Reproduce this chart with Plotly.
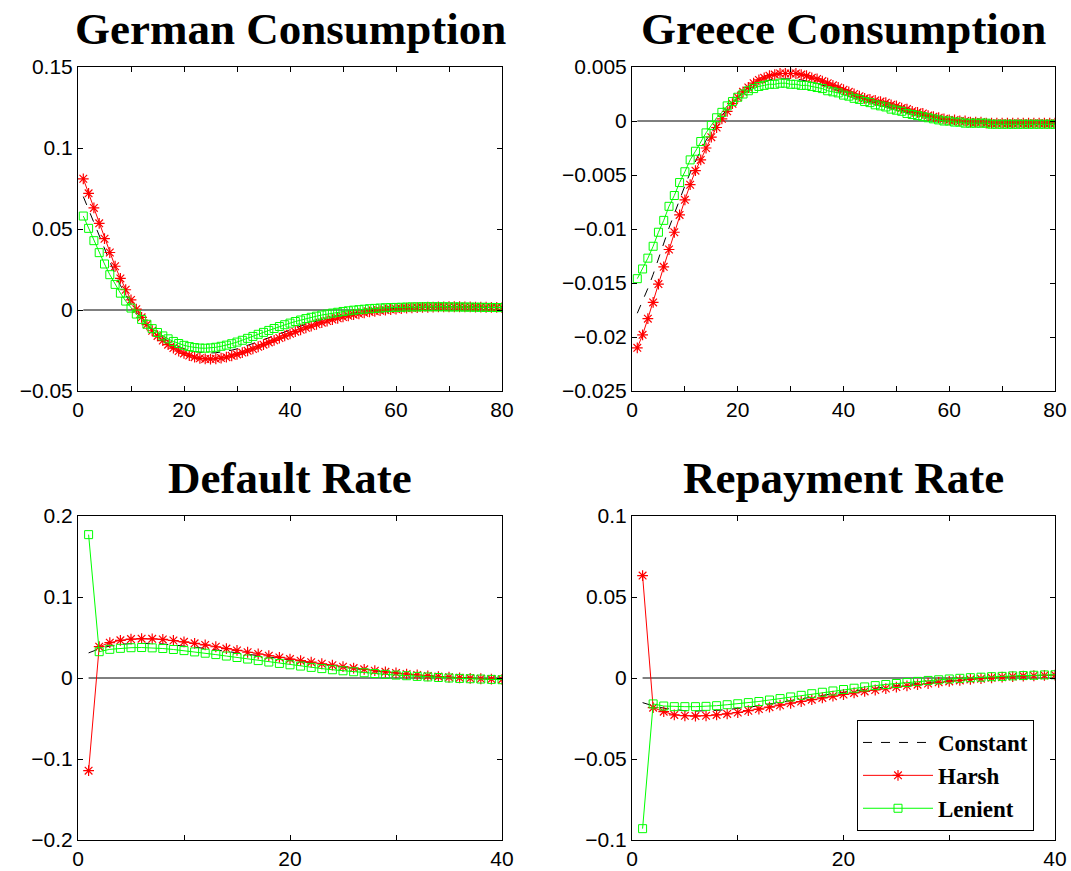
import plotly.graph_objects as go

t80 = list(range(1, 81))
t40 = list(range(1, 41))

# ---------------- German Consumption ----------------
german_constant = [
    0.070, 0.062, 0.0535, 0.045, 0.037, 0.0292, 0.022, 0.0152, 0.009, 0.0036,
    -0.0011, -0.0052, -0.0088, -0.0120, -0.0148, -0.0172, -0.0193, -0.0211, -0.0226, -0.0238,
    -0.0248, -0.0256, -0.0261, -0.0264, -0.0265, -0.0264, -0.0260, -0.0255, -0.0248, -0.0240,
    -0.0230, -0.0219, -0.0208, -0.0196, -0.0183, -0.0171, -0.0158, -0.0145, -0.0133, -0.0121,
    -0.0110, -0.0099, -0.0088, -0.0078, -0.0069, -0.0060, -0.0051, -0.0043, -0.0036, -0.0029,
    -0.0023, -0.0017, -0.0012, -0.0008, -0.0004, 0.0000, 0.0003, 0.0006, 0.0008, 0.0010,
    0.0012, 0.0014, 0.0015, 0.0016, 0.0017, 0.0018, 0.0018, 0.0019, 0.0019, 0.0019,
    0.0019, 0.0019, 0.0018, 0.0018, 0.0018, 0.0017, 0.0017, 0.0016, 0.0015, 0.0015]
german_harsh = [
    0.081, 0.072, 0.063, 0.0535, 0.044, 0.0355, 0.027, 0.0195, 0.0125, 0.0062,
    0.0005, -0.0045, -0.0090, -0.0128, -0.0160, -0.0189, -0.0214, -0.0235, -0.0253, -0.0268,
    -0.0281, -0.0291, -0.0298, -0.0302, -0.0303, -0.0301, -0.0297, -0.0291, -0.0283, -0.0274,
    -0.0263, -0.0252, -0.0240, -0.0227, -0.0214, -0.0200, -0.0187, -0.0173, -0.0160, -0.0147,
    -0.0134, -0.0122, -0.0110, -0.0099, -0.0088, -0.0078, -0.0068, -0.0059, -0.0051, -0.0043,
    -0.0036, -0.0029, -0.0023, -0.0017, -0.0012, -0.0008, -0.0004, 0.0000, 0.0003, 0.0006,
    0.0009, 0.0011, 0.0013, 0.0015, 0.0016, 0.0017, 0.0018, 0.0019, 0.0019, 0.0020,
    0.0020, 0.0020, 0.0019, 0.0019, 0.0018, 0.0018, 0.0017, 0.0016, 0.0016, 0.0015]
german_lenient = [
    0.058, 0.0504, 0.0428, 0.0354, 0.0284, 0.0218, 0.0158, 0.0104, 0.0055, 0.0012,
    -0.0025, -0.0058, -0.0088, -0.0115, -0.0139, -0.0160, -0.0178, -0.0194, -0.0207, -0.0218,
    -0.0226, -0.0232, -0.0235, -0.0236, -0.0234, -0.0230, -0.0224, -0.0217, -0.0208, -0.0198,
    -0.0187, -0.0175, -0.0163, -0.0150, -0.0138, -0.0126, -0.0114, -0.0102, -0.0091, -0.0081,
    -0.0071, -0.0062, -0.0053, -0.0045, -0.0038, -0.0031, -0.0025, -0.0019, -0.0014, -0.0009,
    -0.0005, -0.0001, 0.0002, 0.0005, 0.0008, 0.0010, 0.0012, 0.0014, 0.0015, 0.0016,
    0.0017, 0.0018, 0.0019, 0.0019, 0.0020, 0.0020, 0.0020, 0.0020, 0.0020, 0.0019,
    0.0019, 0.0019, 0.0018, 0.0018, 0.0017, 0.0017, 0.0016, 0.0016, 0.0015, 0.0015]

# ---------------- Greece Consumption ----------------
greece_constant = [
    -0.0178, -0.0167, -0.0155, -0.0142, -0.0127, -0.0113, -0.0099, -0.0086, -0.0072, -0.0060,
    -0.0048, -0.0037, -0.0027, -0.0018, -0.0010, -0.0002, 0.0005, 0.0011, 0.0017, 0.0022,
    0.0026, 0.0029, 0.0032, 0.0035, 0.0036, 0.0038, 0.0039, 0.0039, 0.0039, 0.0039,
    0.0039, 0.0038, 0.0037, 0.0036, 0.0035, 0.0033, 0.0032, 0.0030, 0.0028, 0.0027,
    0.0025, 0.0023, 0.0021, 0.0020, 0.0018, 0.0017, 0.0015, 0.0014, 0.0012, 0.0011,
    0.0010, 0.0008, 0.0007, 0.0006, 0.0005, 0.0004, 0.0003, 0.0002, 0.0001, 0.0000,
    0.0000, -0.0001, -0.0001, -0.0001, -0.0002, -0.0002, -0.0002, -0.0002, -0.0002, -0.0002,
    -0.0002, -0.0002, -0.0002, -0.0002, -0.0002, -0.0002, -0.0002, -0.0002, -0.0002, -0.0002]
greece_harsh = [
    -0.0210, -0.0198, -0.0183, -0.0168, -0.0151, -0.0135, -0.0119, -0.0103, -0.0087, -0.0073,
    -0.0059, -0.0046, -0.0036, -0.0025, -0.0015, -0.0006, 0.0002, 0.0009, 0.0016, 0.0022,
    0.0027, 0.0031, 0.0035, 0.0038, 0.0040, 0.0042, 0.0043, 0.0044, 0.0044, 0.0044,
    0.0044, 0.0043, 0.0042, 0.0040, 0.0039, 0.0037, 0.0035, 0.0033, 0.0031, 0.0029,
    0.0027, 0.0025, 0.0023, 0.0021, 0.0020, 0.0019, 0.0018, 0.0017, 0.0015, 0.0014,
    0.0012, 0.0011, 0.0009, 0.0008, 0.0007, 0.0005, 0.0004, 0.0003, 0.0002, 0.0001,
    0.0001, 0.0000, 0.0000, -0.0001, -0.0001, -0.0001, -0.0002, -0.0002, -0.0002, -0.0002,
    -0.0002, -0.0002, -0.0002, -0.0002, -0.0002, -0.0002, -0.0002, -0.0002, -0.0002, -0.0002]
greece_lenient = [
    -0.0146, -0.0137, -0.0127, -0.0116, -0.0103, -0.0092, -0.0079, -0.0069, -0.0057, -0.0047,
    -0.0036, -0.0028, -0.0019, -0.0011, -0.0004, 0.0003, 0.0008, 0.0014, 0.0018, 0.0022,
    0.0025, 0.0028, 0.0030, 0.0032, 0.0033, 0.0034, 0.0034, 0.0035, 0.0035, 0.0034,
    0.0034, 0.0033, 0.0033, 0.0032, 0.0031, 0.0030, 0.0028, 0.0027, 0.0026, 0.0024,
    0.0023, 0.0021, 0.0020, 0.0018, 0.0017, 0.0015, 0.0014, 0.0013, 0.0011, 0.0010,
    0.0009, 0.0007, 0.0006, 0.0005, 0.0004, 0.0003, 0.0002, 0.0001, 0.0000, 0.0000,
    -0.0001, -0.0001, -0.0002, -0.0002, -0.0002, -0.0002, -0.0002, -0.0003, -0.0003, -0.0003,
    -0.0003, -0.0003, -0.0003, -0.0003, -0.0003, -0.0003, -0.0003, -0.0003, -0.0003, -0.0003]

# ---------------- Default Rate ----------------
default_constant = [
    0.031, 0.036, 0.0395, 0.0415, 0.0425, 0.0430, 0.0428, 0.0420, 0.0410, 0.0397,
    0.0381, 0.0364, 0.0346, 0.0328, 0.0310, 0.0291, 0.0272, 0.0253, 0.0235, 0.0217,
    0.0199, 0.0181, 0.0164, 0.0147, 0.0131, 0.0115, 0.0100, 0.0086, 0.0072, 0.0060,
    0.0048, 0.0037, 0.0027, 0.0018, 0.0010, 0.0003, -0.0003, -0.0008, -0.0012, -0.0016]
default_harsh = [
    -0.1144, 0.0387, 0.0436, 0.0465, 0.0480, 0.0486, 0.0484, 0.0476, 0.0463, 0.0447,
    0.0428, 0.0408, 0.0386, 0.0363, 0.0340, 0.0318, 0.0296, 0.0275, 0.0254, 0.0234,
    0.0214, 0.0195, 0.0176, 0.0158, 0.0140, 0.0123, 0.0107, 0.0091, 0.0076, 0.0062,
    0.0049, 0.0037, 0.0026, 0.0017, 0.0009, 0.0002, -0.0004, -0.0009, -0.0013, -0.0017]
default_lenient = [
    0.177, 0.0325, 0.0354, 0.0366, 0.0374, 0.0376, 0.0372, 0.0364, 0.0352, 0.0338,
    0.0322, 0.0306, 0.0289, 0.0271, 0.0253, 0.0234, 0.0215, 0.0197, 0.0180, 0.0163,
    0.0147, 0.0131, 0.0116, 0.0102, 0.0089, 0.0077, 0.0065, 0.0055, 0.0045, 0.0036,
    0.0028, 0.0020, 0.0013, 0.0006, 0.0000, -0.0005, -0.0009, -0.0013, -0.0017, -0.0021]

# ---------------- Repayment Rate ----------------
repay_constant = [
    -0.0152, -0.0172, -0.0186, -0.0196, -0.0202, -0.0204, -0.0203, -0.0200, -0.0195, -0.0189,
    -0.0181, -0.0171, -0.0160, -0.0148, -0.0137, -0.0126, -0.0116, -0.0106, -0.0097, -0.0088,
    -0.0079, -0.0071, -0.0063, -0.0055, -0.0047, -0.0040, -0.0033, -0.0027, -0.0021, -0.0016,
    -0.0011, -0.0006, -0.0002, 0.0002, 0.0006, 0.0010, 0.0013, 0.0015, 0.0017, 0.0019]
repay_harsh = [
    0.0632, -0.0183, -0.0208, -0.0228, -0.0233, -0.0235, -0.0233, -0.0228, -0.0222, -0.0213,
    -0.0202, -0.0192, -0.0180, -0.0168, -0.0156, -0.0145, -0.0134, -0.0123, -0.0112, -0.0102,
    -0.0092, -0.0083, -0.0074, -0.0065, -0.0056, -0.0048, -0.0041, -0.0034, -0.0027, -0.0021,
    -0.0015, -0.0009, -0.0004, 0.0001, 0.0005, 0.0009, 0.0012, 0.0014, 0.0016, 0.0018]
repay_lenient = [
    -0.0930, -0.0160, -0.0173, -0.0177, -0.0177, -0.0177, -0.0175, -0.0171, -0.0165, -0.0159,
    -0.0152, -0.0145, -0.0136, -0.0127, -0.0117, -0.0107, -0.0097, -0.0088, -0.0080, -0.0071,
    -0.0063, -0.0055, -0.0047, -0.0040, -0.0034, -0.0028, -0.0021, -0.0015, -0.0011, -0.0006,
    -0.0002, 0.0002, 0.0005, 0.0008, 0.0010, 0.0013, 0.0015, 0.0017, 0.0019, 0.0020]

titles = ["German Consumption", "Greece Consumption", "Default Rate", "Repayment Rate"]
series_names = ["Constant", "Harsh", "Lenient"]

panels = [
    dict(t=t80, data=[german_constant, german_harsh, german_lenient],
         yrange=[-0.05, 0.15], ytick=[-0.05, 0, 0.05, 0.1, 0.15],
         yticktext=["\u22120.05", "0", "0.05", "0.1", "0.15"],
         xmax=80, xtick=list(range(0, 81, 10))),
    dict(t=t80, data=[greece_constant, greece_harsh, greece_lenient],
         yrange=[-0.025, 0.005], ytick=[-0.025, -0.02, -0.015, -0.01, -0.005, 0, 0.005],
         yticktext=["\u22120.025", "\u22120.02", "\u22120.015", "\u22120.01", "\u22120.005", "0", "0.005"],
         xmax=80, xtick=list(range(0, 81, 10))),
    dict(t=t40, data=[default_constant, default_harsh, default_lenient],
         yrange=[-0.2, 0.2], ytick=[-0.2, -0.1, 0, 0.1, 0.2],
         yticktext=["\u22120.2", "\u22120.1", "0", "0.1", "0.2"],
         xmax=40, xtick=list(range(0, 41, 10))),
    dict(t=t40, data=[repay_constant, repay_harsh, repay_lenient],
         yrange=[-0.1, 0.1], ytick=[-0.1, -0.05, 0, 0.05, 0.1],
         yticktext=["\u22120.1", "\u22120.05", "0", "0.05", "0.1"],
         xmax=40, xtick=list(range(0, 41, 10))),
]

W, H = 1071, 871
xdoms = [[78 / W, 502 / W], [632 / W, 1055 / W]]
ydoms = [[1 - 391 / H, 1 - 67 / H], [1 - 840 / H, 1 - 516 / H]]

fig = go.Figure()
layout = dict(width=W, height=H, margin=dict(l=0, r=0, t=0, b=0),
              paper_bgcolor="white", plot_bgcolor="white", annotations=[])

styles = [
    dict(mode="lines", line=dict(color="black", width=1, dash="dash")),
    dict(mode="lines+markers", line=dict(color="#ff0000", width=1),
         marker=dict(symbol="asterisk-open", size=9, color="#ff0000",
                     line=dict(color="#ff0000", width=1.2))),
    dict(mode="lines+markers", line=dict(color="#00ff00", width=1),
         marker=dict(symbol="square-open", size=8, color="#00ff00",
                     line=dict(color="#00ff00", width=1))),
]

tickfont = dict(family="Liberation Sans", size=21, color="black")

for i, p in enumerate(panels):
    col, row = i % 2, i // 2
    ax = "" if i == 0 else str(i + 1)
    xa, ya = "x" + ax, "y" + ax
    # zero reference line
    fig.add_trace(go.Scatter(x=[p["t"][0], p["t"][-1]], y=[0, 0], mode="lines",
                             line=dict(color="black", width=1), xaxis=xa, yaxis=ya,
                             showlegend=False, hoverinfo="skip"))
    for k in range(3):
        fig.add_trace(go.Scatter(x=p["t"], y=p["data"][k], name="<b>" + series_names[k] + "</b>",
                                 xaxis=xa, yaxis=ya, showlegend=(i == 3), **styles[k]))
    xt = p["xtick"]
    layout["xaxis" + ax] = dict(
        domain=xdoms[col], anchor=ya, range=[0, p["xmax"]], tickmode="array",
        tickvals=xt, ticktext=[str(v) if v % 20 == 0 else "" for v in xt],
        ticks="inside", ticklen=5, tickcolor="black", showline=True, linecolor="black",
        linewidth=1, mirror="ticks", showgrid=False, zeroline=False, automargin=False,
        tickfont=tickfont)
    layout["yaxis" + ax] = dict(
        domain=ydoms[row], anchor=xa, range=p["yrange"], tickmode="array",
        tickvals=p["ytick"], ticktext=p["yticktext"],
        ticks="inside", ticklen=5, tickcolor="black", showline=True, linecolor="black",
        linewidth=1, mirror="ticks", showgrid=False, zeroline=False, automargin=False,
        tickfont=tickfont)
    cx = (xdoms[col][0] + xdoms[col][1]) / 2
    cy = ydoms[row][1]
    layout["annotations"].append(dict(
        text="<b>" + titles[i] + "</b>", x=cx, y=cy, xref="paper", yref="paper",
        xanchor="center", yanchor="bottom", yshift=11, showarrow=False,
        font=dict(family="Liberation Serif", size=45, color="black")))

layout["legend"] = dict(x=857 / W, y=1 - 720 / H, xanchor="left", yanchor="top",
                        bgcolor="white", bordercolor="black", borderwidth=1,
                        font=dict(family="Liberation Serif", size=23, color="black"),
                        itemwidth=70)
fig.update_layout(**layout)

fig.write_html("out.html", config={"displayModeBar": False},
               post_script="document.body.style.margin='0';document.body.style.overflow='hidden';")
